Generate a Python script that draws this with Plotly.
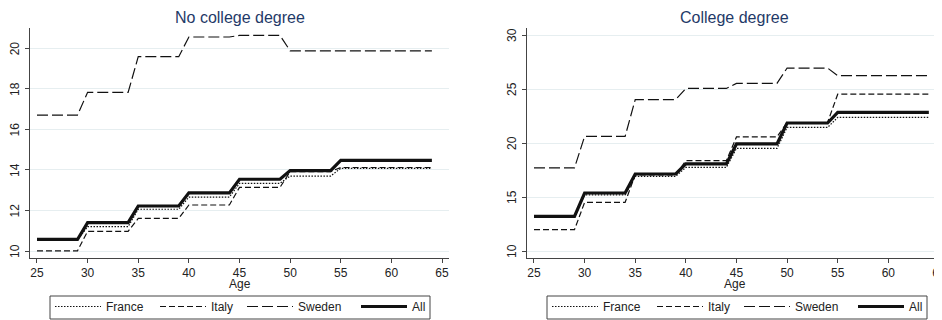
import plotly.graph_objects as go

# ---- data ----
age_group_starts = [25, 30, 35, 40, 45, 50, 55, 60]
years_per_group = 5
series_names = ["France", "Italy", "Sweden", "All"]

nc_france = [10.55, 11.20, 12.06, 12.66, 13.34, 13.70, 14.08, 14.08]
nc_italy = [10.01, 10.97, 11.61, 12.27, 13.14, 13.92, 14.12, 14.12]
nc_sweden = [16.71, 17.83, 19.59, 20.56, 20.64, 19.88, 19.88, 19.88]
nc_all = [10.57, 11.40, 12.22, 12.87, 13.54, 13.97, 14.47, 14.47]

c_france = [13.15, 15.20, 16.91, 17.74, 19.50, 21.44, 22.37, 22.37]
c_italy = [11.97, 14.50, 17.05, 18.36, 20.56, 21.90, 24.52, 24.52]
c_sweden = [17.69, 20.61, 24.02, 25.05, 25.52, 26.94, 26.23, 26.23]
c_all = [13.20, 15.37, 17.13, 18.06, 19.91, 21.85, 22.83, 22.83]

x_ticks = [25, 30, 35, 40, 45, 50, 55, 60, 65]
nc_y_ticks = [10, 12, 14, 16, 18, 20]
c_y_ticks = [10, 15, 20, 25, 30]
panel_titles = ["No college degree", "College degree"]
x_title = "Age"


def expand(values):
    ages, vals = [], []
    for start, v in zip(age_group_starts, values):
        for a in range(start, start + years_per_group):
            ages.append(a)
            vals.append(v)
    return ages, vals


styles = {
    "France": dict(color="#111111", width=1.2, dash="1.5px,1.5px"),
    "Italy": dict(color="#111111", width=1.2, dash="6px,3px"),
    "Sweden": dict(color="#111111", width=1.2, dash="11px,4px"),
    "All": dict(color="#111111", width=3.2),
}

# page body has an 8px margin: figure is laid out in its own pixel frame
W, H = 934, 312
FONT = "Liberation Sans, Arial, sans-serif"
TXT = "#222222"

legend_box_left = [42, 539]
legend_item_offsets = [0, 105, 192, 306]

fig = go.Figure()
panels = [
    ("x", "y", [nc_france, nc_italy, nc_sweden, nc_all]),
    ("x2", "y2", [c_france, c_italy, c_sweden, c_all]),
]
legend_layout = {}
k = 0
for p, (xa, ya, data) in enumerate(panels):
    for i, (name, vals) in enumerate(zip(series_names, data)):
        k += 1
        lg = "legend" if k == 1 else f"legend{k}"
        xs, ys = expand(vals)
        fig.add_trace(go.Scatter(x=xs, y=ys, mode="lines", name=name,
                                 line=styles[name], xaxis=xa, yaxis=ya,
                                 legend=lg, hoverinfo="skip"))
        legend_layout[lg] = dict(
            orientation="h", xanchor="left",
            x=(legend_box_left[p] + legend_item_offsets[i]) / W,
            y=1 - 284 / H, yanchor="top", borderwidth=0,
            font=dict(family=FONT, size=12, color=TXT),
            itemwidth=46, bgcolor="rgba(0,0,0,0)")

axis_common = dict(showline=True, linecolor="#444444", linewidth=1,
                   ticks="outside", ticklen=4, tickcolor="#444444",
                   tickfont=dict(family=FONT, size=12, color=TXT),
                   zeroline=False, automargin=False)

y_dom = [1 - 250 / H, 1 - 20.3 / H]
x_doms = [[22 / W, 441 / W], [519 / W, 1.0]]
fig.update_layout(
    width=W, height=H,
    margin=dict(l=0, r=0, t=0, b=0, autoexpand=False),
    paper_bgcolor="white", plot_bgcolor="white",
    font=dict(family=FONT, color=TXT),
    xaxis=dict(domain=x_doms[0], range=[24.31, 65.69],
               tickvals=x_ticks, showgrid=False, anchor="y", **axis_common),
    yaxis=dict(domain=y_dom, range=[9.655, 20.99], tickvals=nc_y_ticks,
               showticklabels=False, showgrid=True, gridcolor="#e6eef0",
               gridwidth=1, anchor="x", **axis_common),
    xaxis2=dict(domain=x_doms[1], range=[24.31, 65.30],
                tickvals=x_ticks, showgrid=False, anchor="y2",
                ticklabeloverflow="allow", **axis_common),
    yaxis2=dict(domain=y_dom, range=[9.352, 30.62], tickvals=c_y_ticks,
                showticklabels=False, showgrid=True, gridcolor="#e6eef0",
                gridwidth=1, anchor="x2", **axis_common),
    showlegend=True,
    **legend_layout,
)

# vertical y tick labels (rotated text placed on the data scale)
for yref, ticks, xlab in [("y", nc_y_ticks, 7), ("y2", c_y_ticks, 504)]:
    for t in ticks:
        fig.add_annotation(text=str(t), xref="paper", yref=yref,
                           x=xlab / W, y=t, textangle=-90,
                           xanchor="center", yanchor="middle", showarrow=False,
                           font=dict(family=FONT, size=12, color=TXT))

# legend frames
for x0 in legend_box_left:
    fig.add_shape(type="rect", xref="paper", yref="paper",
                  x0=x0 / W, x1=(x0 + 380) / W, y0=1 - 311 / H, y1=1 - 288 / H,
                  line=dict(color="#444444", width=1), layer="below")

for title, dom in zip(panel_titles, x_doms):
    fig.add_annotation(text=title, xref="paper", yref="paper",
                       x=(dom[0] + dom[1]) / 2, y=1 - 9 / H,
                       xanchor="center", yanchor="middle", showarrow=False,
                       font=dict(family=FONT, size=16, color="#1f3a68"))
    fig.add_annotation(text=x_title, xref="paper", yref="paper",
                       x=(dom[0] + dom[1]) / 2, y=1 - 275.5 / H,
                       xanchor="center", yanchor="middle", showarrow=False,
                       font=dict(family=FONT, size=12, color=TXT))

fig.write_html("out.html")
